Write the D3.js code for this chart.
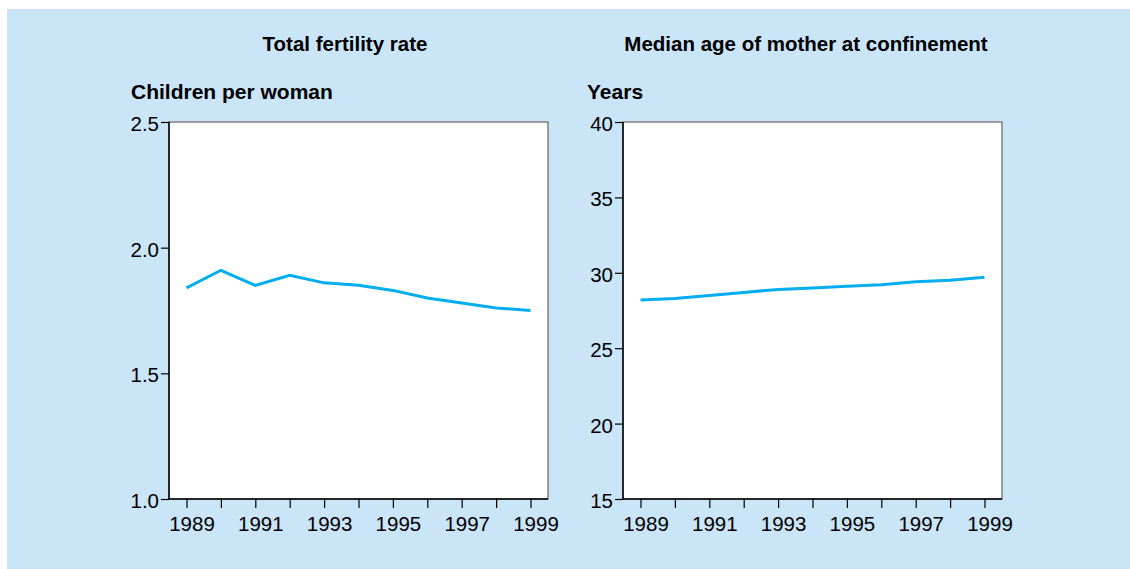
<!DOCTYPE html>
<html>
<head>
<meta charset="utf-8">
<script src="https://cdn.jsdelivr.net/npm/d3@7"></script>
<style>
  html, body { margin: 0; padding: 0; background: #fff; }
  svg text { font-family: "Liberation Sans", Arial, sans-serif; fill: #000; }
</style>
</head>
<body>
<div id="chart"></div>
<script>
// data
const years = [1989, 1990, 1991, 1992, 1993, 1994, 1995, 1996, 1997, 1998, 1999];
const fertility = [1.84, 1.91, 1.85, 1.89, 1.86, 1.85, 1.83, 1.80, 1.78, 1.76, 1.75];
const medianAge = [28.2, 28.3, 28.5, 28.7, 28.9, 29.0, 29.1, 29.2, 29.4, 29.5, 29.7];
const fertilityTicks = [1.0, 1.5, 2.0, 2.5];
const ageTicks = [15, 20, 25, 30, 35, 40];
const yearTicks = [1989, 1991, 1993, 1995, 1997, 1999];

const w = 1130, h = 569;
const svg = d3.select("#chart").append("svg")
  .attr("width", w).attr("height", h);

// panel background
svg.append("rect")
  .attr("x", 7).attr("y", 9)
  .attr("width", w - 7).attr("height", h - 9)
  .attr("fill", "#c9e5f7");

const panels = [
  { title: "Total fertility rate", unit: "Children per woman", values: fertility,
    domain: [1.0, 2.5], ticks: fertilityTicks, fmt: d3.format(".1f"),
    left: 169, right: 548, titleX: 345, unitX: 131 },
  { title: "Median age of mother at confinement", unit: "Years", values: medianAge,
    domain: [15, 40], ticks: ageTicks, fmt: d3.format("d"),
    left: 623, right: 1002, titleX: 806, unitX: 587 }
];

const plotTop = 122, plotBottom = 499;

panels.forEach(p => {
  const g = svg.append("g");

  // plot area
  g.append("rect")
    .attr("x", p.left).attr("y", plotTop)
    .attr("width", p.right - p.left).attr("height", plotBottom - plotTop)
    .attr("fill", "#fff")
    .attr("stroke", "#7f7f7f")
    .attr("stroke-width", 1.5);

  const x = d3.scaleLinear()
    .domain([1989, 1999])
    .range([p.left + 17.5, p.right - 17.5]);

  const y = d3.scaleLinear()
    .domain(p.domain)
    .range([plotBottom, plotTop]);

  // x axis
  const xAxis = d3.axisBottom(x)
    .tickValues(years)
    .tickSize(9)
    .tickPadding(8)
    .tickFormat(d => yearTicks.includes(d) ? d : "");
  const gx = g.append("g")
    .attr("transform", "translate(0," + plotBottom + ")")
    .call(xAxis);
  gx.select(".domain")
    .attr("d", "M" + p.left + ",0H" + p.right)
    .attr("stroke", "#000").attr("stroke-width", 1.5);
  gx.selectAll(".tick line").attr("stroke", "#000").attr("stroke-width", 1.2);
  gx.selectAll(".tick text")
    .attr("font-size", 20.5)
    .attr("font-family", "Liberation Sans, Arial, sans-serif")
    .attr("fill", "#000")
    .attr("dx", 5);

  // y axis
  const yAxis = d3.axisLeft(y)
    .tickValues(p.ticks)
    .tickSize(8)
    .tickPadding(2)
    .tickFormat(p.fmt);
  const gy = g.append("g")
    .attr("transform", "translate(" + p.left + ",0)")
    .call(yAxis);
  gy.select(".domain")
    .attr("d", "M0," + plotTop + "V" + plotBottom)
    .attr("stroke", "#000").attr("stroke-width", 1.5);
  gy.selectAll(".tick line").attr("stroke", "#000").attr("stroke-width", 1.2);
  gy.selectAll(".tick text")
    .attr("font-size", 20.5)
    .attr("font-family", "Liberation Sans, Arial, sans-serif")
    .attr("fill", "#000")
    .attr("y", 2);

  // series line
  const line = d3.line()
    .x((d, i) => x(years[i]))
    .y(d => y(d));
  g.append("path")
    .datum(p.values)
    .attr("d", line)
    .attr("fill", "none")
    .attr("stroke", "#00aeef")
    .attr("stroke-width", 3);

  // titles
  g.append("text")
    .attr("x", p.titleX).attr("y", 51)
    .attr("text-anchor", "middle")
    .attr("font-size", 20.5)
    .attr("font-weight", "bold")
    .text(p.title);

  g.append("text")
    .attr("x", p.unitX).attr("y", 99)
    .attr("font-size", 21)
    .attr("font-weight", "bold")
    .text(p.unit);
});
</script>
</body>
</html>
